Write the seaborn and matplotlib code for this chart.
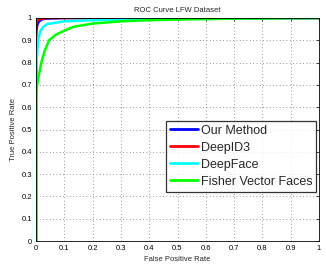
import pandas as pd
import numpy as np
import matplotlib
matplotlib.use("Agg")
import matplotlib.pyplot as plt
import seaborn as sns

# ---------- DATA ----------

methods = ["Our Method", "DeepID3", "DeepFace", "Fisher Vector Faces"]
colors = ["#0000ff", "#ff0000", "#00ffff", "#00ff00"]

fpr_our = [0.0, 0.0, 0.002, 0.005, 0.01, 0.02, 0.03, 0.1, 1.0]
tpr_our = [0.0, 0.92, 0.95, 0.97, 0.985, 0.993, 0.997, 1.0, 1.0]

fpr_deepid3 = [0.0, 0.0, 0.003, 0.01, 0.03, 0.05, 1.0]
tpr_deepid3 = [0.0, 0.97, 0.985, 0.995, 0.999, 1.0, 1.0]

fpr_deepface = [0.0, 0.0, 0.002, 0.007, 0.015, 0.025, 0.04, 0.1, 0.2, 0.3, 0.6, 1.0]
tpr_deepface = [0.0, 0.78, 0.80, 0.90, 0.94, 0.96, 0.973, 0.985, 0.99, 0.993, 0.997, 1.0]

fpr_fisher = [0.0, 0.0, 0.004, 0.011, 0.019, 0.03, 0.046, 0.07, 0.1, 0.134, 0.2,
              0.3, 0.4, 0.5, 0.6, 0.7, 0.8, 0.9, 1.0]
tpr_fisher = [0.0, 0.62, 0.70, 0.75, 0.80, 0.85, 0.90, 0.925, 0.943, 0.961, 0.975,
              0.985, 0.99, 0.993, 0.995, 0.997, 0.998, 0.999, 1.0]

df = pd.concat([
    pd.DataFrame({"fpr": fpr_our, "tpr": tpr_our, "method": methods[0]}),
    pd.DataFrame({"fpr": fpr_deepid3, "tpr": tpr_deepid3, "method": methods[1]}),
    pd.DataFrame({"fpr": fpr_deepface, "tpr": tpr_deepface, "method": methods[2]}),
    pd.DataFrame({"fpr": fpr_fisher, "tpr": tpr_fisher, "method": methods[3]}),
], ignore_index=True)

ticks = np.round(np.arange(0, 1.01, 0.1), 1)
tick_labels = ["0", "0.1", "0.2", "0.3", "0.4", "0.5", "0.6", "0.7", "0.8", "0.9", "1"]

# ---------- PLOT ----------

sns.set_style("white")
plt.rcParams["font.family"] = ["Liberation Sans", "DejaVu Sans"]

fig = plt.figure(figsize=(3.26, 2.66), dpi=100)
ax = fig.add_axes([36 / 326, 25 / 266, 283 / 326, 223 / 266])

sns.lineplot(
    data=df, x="fpr", y="tpr", hue="method", hue_order=methods,
    palette=colors, sort=False, estimator=None, linewidth=1.8, ax=ax
)

ax.set_xlim(0, 1)
ax.set_ylim(0, 1)
ax.set_xticks(ticks)
ax.set_yticks(ticks)
ax.set_xticklabels(tick_labels, fontsize=5.5)
ax.set_yticklabels(tick_labels, fontsize=5.5)
ax.tick_params(direction="in", length=2.5, width=0.5, top=True, right=True,
               pad=3, colors="black")
ax.tick_params(axis="x", labeltop=False)
ax.tick_params(axis="y", labelright=False)
ax.grid(True, linestyle=(0, (1, 3)), color="#777777", linewidth=0.6)
for s in ax.spines.values():
    s.set_linewidth(0.6)
    s.set_color("black")

ax.set_title("ROC Curve LFW Dataset", fontsize=5.5, pad=4)
ax.set_xlabel("False Positive Rate", fontsize=5.5, labelpad=3)
ax.set_ylabel("True Positive Rate", fontsize=5.5, labelpad=3)

leg = ax.legend(loc="center right", bbox_to_anchor=(1 - 3 / 283, 0.38), fontsize=9,
                frameon=True, fancybox=False, edgecolor="black",
                handlelength=2.2, handletextpad=0.25, borderpad=0.3,
                labelspacing=0.4, borderaxespad=0.0)
leg.get_frame().set_linewidth(0.9)
for line in leg.get_lines():
    line.set_linewidth(2)

fig.savefig("out.png", dpi=100)
